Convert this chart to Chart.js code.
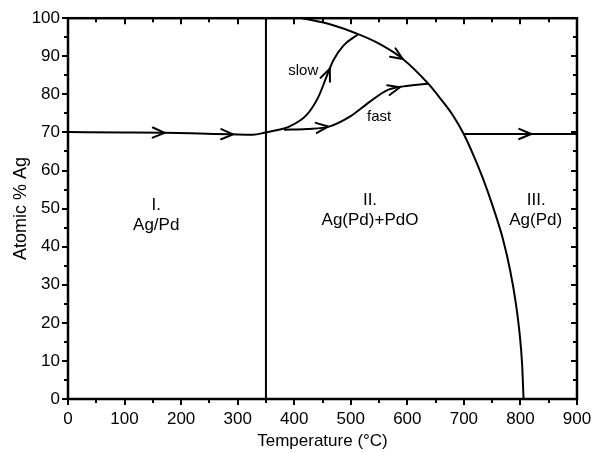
<!DOCTYPE html>
<html><head><meta charset="utf-8">
<script src="https://cdn.jsdelivr.net/npm/chart.js@4.4.1/dist/chart.umd.min.js"></script>
<style>html,body{margin:0;padding:0;background:#fff;}#wrap{width:602px;height:452px;}</style>
</head><body><div id="wrap"><canvas id="c"></canvas></div>
<script>
// ---- data (Temperature °C, Atomic % Ag) ----
const pathIT  = [0, 100, 170, 233, 290, 327, 350];
const pathIAg = [70.1, 70.0, 69.9, 69.7, 69.5, 69.4, 70.0];

const dividerT  = [350, 350];
const dividerAg = [0, 100];

const slowT  = [350, 392, 422, 443, 457, 469, 487, 513];
const slowAg = [70.0, 71.6, 74.6, 79.4, 84.6, 88.9, 92.8, 95.8];

const fastT  = [382, 422, 463, 499, 534, 563, 593, 637];
const fastAg = [70.7, 70.9, 71.6, 74.2, 78.1, 81.0, 82.1, 82.8];

const boundaryT  = [414, 463, 513, 550, 592, 637, 660, 681, 699, 717, 734, 752, 769, 782, 792, 799, 803, 805.5];
const boundaryAg = [100, 98.4, 95.8, 93.3, 89.3, 82.8, 78.6, 74.4, 69.8, 64.0, 57.8, 50.2, 42.0, 33.6, 25.0, 16.5, 9.0, 0];

const pathIIIT  = [699, 900];
const pathIIIAg = [69.6, 69.6];

const arrowSeries = ['pathI', 'pathI', 'slow', 'fast', 'fast', 'boundary', 'pathIII'];
const arrowT  = [171, 292, 463, 460, 587, 592, 819];

const labelText = ['I.', 'Ag/Pd', 'II.', 'Ag(Pd)+PdO', 'III.', 'Ag(Pd)', 'slow', 'fast'];
const labelT    = [156, 156, 534, 534, 828, 827, 416, 550];
const labelAg   = [50.9, 45.5, 52.1, 46.9, 52.1, 46.9, 86.3, 74.1];
const labelBig  = [true, true, true, true, true, true, false, false];

const xMin = 0, xMax = 900, xMajor = 100, xMinor = 50;
const yMin = 0, yMax = 100, yMajor = 10, yMinor = 5;
const xTitle = 'Temperature (°C)';
const yTitle = 'Atomic % Ag';

// ---- build ----
const pts = (xs, ys) => xs.map((v, i) => ({x: v, y: ys[i]}));
const series = {
  pathI: pts(pathIT, pathIAg),
  divider: pts(dividerT, dividerAg),
  slow: pts(slowT, slowAg),
  fast: pts(fastT, fastAg),
  boundary: pts(boundaryT, boundaryAg),
  pathIII: pts(pathIIIT, pathIIIAg)
};
const FONT = "'Liberation Sans', Arial, Helvetica, sans-serif";

function mkDs(key, smooth) {
  return {
    label: key, data: series[key], showLine: true, pointRadius: 0,
    borderColor: '#000', borderWidth: 2, fill: false,
    cubicInterpolationMode: smooth ? 'monotone' : 'default', tension: 0
  };
}

function valueOn(data, t) {
  for (let i = 0; i < data.length - 1; i++) {
    if (t >= data[i].x && t <= data[i + 1].x) {
      const f = (t - data[i].x) / (data[i + 1].x - data[i].x || 1);
      return {y: data[i].y + f * (data[i + 1].y - data[i].y), i};
    }
  }
  return {y: data[data.length - 1].y, i: data.length - 2};
}

const decor = {
  id: 'decor',
  afterDatasetsDraw(chart) {
    const {ctx, chartArea: a, scales: {x, y}} = chart;
    ctx.save();
    ctx.strokeStyle = '#000'; ctx.fillStyle = '#000';
    ctx.lineWidth = 2.5;
    ctx.strokeRect(a.left, a.top, a.right - a.left, a.bottom - a.top);
    // tick marks
    ctx.lineWidth = 2;
    ctx.beginPath();
    for (let v = xMin; v <= xMax; v += xMinor) {
      const px = Math.round(x.getPixelForValue(v));
      const len = (v % xMajor === 0) ? 6 : 4;
      ctx.moveTo(px, a.bottom); ctx.lineTo(px, a.bottom + len);
      ctx.moveTo(px, a.top); ctx.lineTo(px, a.top + len);
    }
    for (let v = yMin; v <= yMax; v += yMinor) {
      const py = Math.round(y.getPixelForValue(v));
      const len = (v % yMajor === 0) ? 6 : 4;
      ctx.moveTo(a.left, py); ctx.lineTo(a.left - len, py);
      ctx.moveTo(a.right, py); ctx.lineTo(a.right - len, py);
    }
    ctx.stroke();
    // arrows
    ctx.lineWidth = 2; ctx.lineCap = 'round'; ctx.lineJoin = 'round';
    arrowSeries.forEach((key, k) => {
      const data = series[key];
      const t = arrowT[k];
      const r = valueOn(data, t);
      const p0 = data[r.i], p1 = data[r.i + 1];
      const ang = Math.atan2(y.getPixelForValue(p1.y) - y.getPixelForValue(p0.y),
                             x.getPixelForValue(p1.x) - x.getPixelForValue(p0.x));
      const tx = x.getPixelForValue(t), ty = y.getPixelForValue(r.y);
      const L = 13, w = 0.4;
      ctx.beginPath();
      ctx.moveTo(tx - L * Math.cos(ang - w), ty - L * Math.sin(ang - w));
      ctx.lineTo(tx, ty);
      ctx.lineTo(tx - L * Math.cos(ang + w), ty - L * Math.sin(ang + w));
      ctx.stroke();
    });
    // region labels
    ctx.textAlign = 'center'; ctx.textBaseline = 'middle';
    labelText.forEach((s, k) => {
      ctx.font = (labelBig[k] ? '17px ' : '15px ') + FONT;
      ctx.fillText(s, x.getPixelForValue(labelT[k]), y.getPixelForValue(labelAg[k]));
    });
    ctx.restore();
  }
};

new Chart(document.getElementById('c'), {
  type: 'scatter',
  data: {datasets: [
    mkDs('pathI', true), mkDs('divider', false), mkDs('slow', true),
    mkDs('fast', true), mkDs('boundary', true), mkDs('pathIII', false)
  ]},
  options: {
    responsive: true, maintainAspectRatio: false, animation: false,
    layout: {padding: {top: 14, right: 25, left: 0, bottom: 0}},
    plugins: {legend: {display: false}, tooltip: {enabled: false}},
    scales: {
      x: {
        type: 'linear', min: xMin, max: xMax,
        afterFit: s => { s.height = 53; },
        grid: {display: false, drawTicks: false}, border: {display: false},
        ticks: {stepSize: xMajor, color: '#000', padding: 10, font: {family: FONT, size: 17}},
        title: {display: true, text: xTitle, color: '#000', font: {family: FONT, size: 17}, padding: {top: 0, bottom: 0}}
      },
      y: {
        type: 'linear', min: yMin, max: yMax,
        afterFit: s => { s.width = 68; },
        grid: {display: false, drawTicks: false}, border: {display: false},
        ticks: {stepSize: yMajor, color: '#000', padding: 8, font: {family: FONT, size: 17}},
        title: {display: true, text: yTitle, color: '#000', font: {family: FONT, size: 18}, padding: {top: 10, bottom: 0}}
      }
    }
  },
  plugins: [decor]
});
</script></body></html>
